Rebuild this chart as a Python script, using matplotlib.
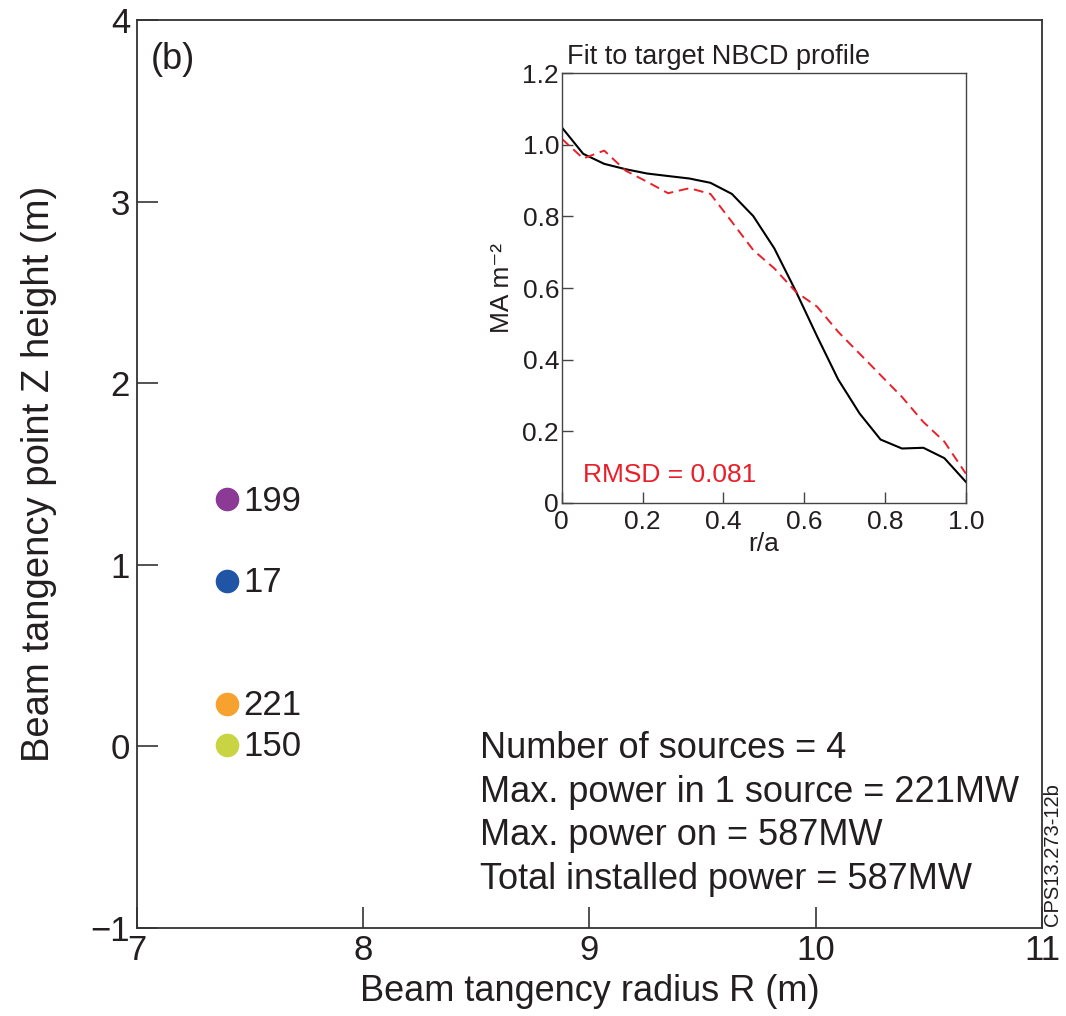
import matplotlib
matplotlib.use("Agg")
import matplotlib.pyplot as plt

plt.rcParams['font.family'] = ['Liberation Sans', 'DejaVu Sans']
plt.rcParams['axes.unicode_minus'] = True

TXT = '#231F20'

# Main panel data
src_R = [7.4, 7.4, 7.4, 7.4]
src_Z = [1.36, 0.91, 0.235, 0.01]
src_P = ['199', '17', '221', '150']
src_col = ['#8B3A96', '#2055A5', '#F7A12E', '#C9D443']

info_lines = ['Number of sources = 4',
              'Max. power in 1 source = 221MW',
              'Max. power on = 587MW',
              'Total installed power = 587MW']

# Inset data
ra = [0, 0.053, 0.105, 0.158, 0.211, 0.263, 0.316, 0.368, 0.421, 0.474,
      0.526, 0.579, 0.632, 0.684, 0.737, 0.789, 0.842, 0.895, 0.947, 1.0]
target = [1.049, 0.975, 0.947, 0.932, 0.920, 0.913, 0.906, 0.894, 0.863, 0.801,
          0.711, 0.592, 0.465, 0.345, 0.250, 0.177, 0.152, 0.154, 0.125, 0.059]
fit = [1.017, 0.962, 0.984, 0.928, 0.897, 0.865, 0.879, 0.863, 0.785, 0.706,
       0.655, 0.590, 0.548, 0.478, 0.417, 0.357, 0.296, 0.226, 0.171, 0.082]

main_xticks = [7, 8, 9, 10, 11]
main_yticks = [-1, 0, 1, 2, 3, 4]
main_ylabels = ['\u22121', '0', '1', '2', '3', '4']
in_xticks = [0, 0.2, 0.4, 0.6, 0.8, 1.0]
in_xlabels = ['0', '0.2', '0.4', '0.6', '0.8', '1.0']
in_yticks = [0, 0.2, 0.4, 0.6, 0.8, 1.0, 1.2]
in_ylabels = ['0', '0.2', '0.4', '0.6', '0.8', '1.0', '1.2']

fig = plt.figure(figsize=(10.66, 10.16), dpi=100)
ax = fig.add_axes([0.1285, 0.0866, 0.849, 0.8937])
ax.set_xlim(7, 11)
ax.set_ylim(-1, 4)
ax.set_xticks(main_xticks)
ax.set_yticks(main_yticks)
ax.set_yticklabels(main_ylabels)
ax.tick_params(direction='in', length=15, width=1.3, color='#444444',
               labelsize=25, labelcolor=TXT, top=False, right=False)
ax.tick_params(axis='x', pad=4)
ax.tick_params(axis='y', pad=5)
for s in ax.spines.values():
    s.set_linewidth(1.3)
    s.set_color('#333333')
ax.set_xlabel('Beam tangency radius R (m)', fontsize=26, color=TXT, labelpad=5)
ax.set_ylabel('Beam tangency point Z height (m)', fontsize=27.5, color=TXT, labelpad=24)

for r, z, p, c in zip(src_R, src_Z, src_P, src_col):
    ax.plot([r], [z], 'o', ms=17, color=c, mec='none', zorder=3)
    ax.text(r + 0.07, z - 0.01, p, fontsize=25, color=TXT, va='center', ha='left')

for i, line in enumerate(info_lines):
    ax.text(8.516, -0.012 - 0.240 * i, line, fontsize=26, color=TXT,
            va='center', ha='left')

ax.text(7.06, 3.78, '(b)', fontsize=26, color=TXT, va='center', ha='left')

fig.text(0.987, 0.159, 'CPS13.273-12b', rotation=90, fontsize=14.5,
         color=TXT, va='center', ha='center')

# Inset
axi = fig.add_axes([0.527, 0.505, 0.379, 0.4229])
axi.plot(ra, target, '-', color='black', lw=1.5)
axi.plot(ra, fit, '--', color='#E8202A', lw=1.4, dashes=(5, 3))
axi.set_xlim(0, 1.0)
axi.set_ylim(0, 1.2)
axi.set_xticks(in_xticks)
axi.set_xticklabels(in_xlabels)
axi.set_yticks(in_yticks)
axi.set_yticklabels(in_ylabels)
axi.tick_params(direction='in', length=8, width=1.0, color='#444444',
                labelsize=19, labelcolor=TXT, top=False, right=False)
axi.tick_params(axis='x', pad=5)
axi.tick_params(axis='y', pad=2)
for s in axi.spines.values():
    s.set_linewidth(1.0)
    s.set_color('#444444')
axi.set_xlabel('r/a', fontsize=19, color=TXT, labelpad=-1)
axi.set_ylabel('MA m\u207b\u00b2', fontsize=19, color=TXT, labelpad=6)
axi.text(0.012, 1.008, 'Fit to target NBCD profile', transform=axi.transAxes,
         fontsize=19.5, color=TXT, va='bottom', ha='left')
axi.text(0.052, 0.065, 'RMSD = 0.081', transform=axi.transAxes,
         fontsize=19, color='#E8202A', va='center', ha='left')

fig.savefig('out.png', dpi=100)
